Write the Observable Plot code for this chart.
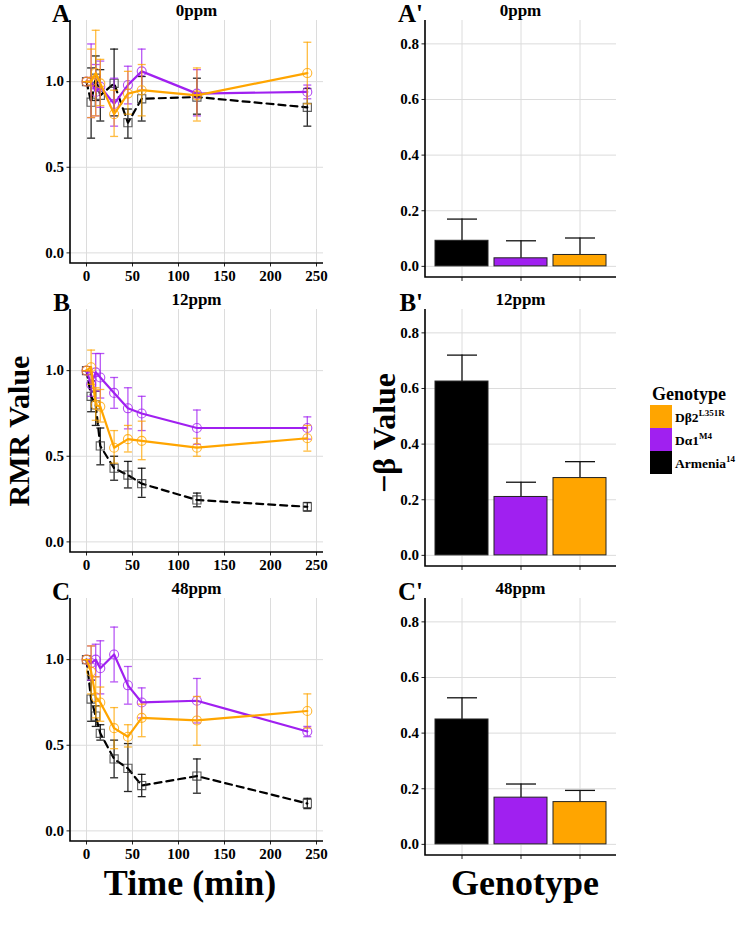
<!DOCTYPE html>
<html><head><meta charset="utf-8">
<script src="https://cdn.jsdelivr.net/npm/d3@7"></script>
<script src="https://cdn.jsdelivr.net/npm/@observablehq/plot@0.6"></script>
<style>
body{margin:0;background:#fff;}
#root{position:relative;width:739px;height:925px;overflow:hidden;background:#fff;font-family:"Liberation Serif","Times New Roman",serif;font-weight:bold;color:#000;}
#root svg{position:absolute;}
#legend{position:absolute;left:650px;top:383px;width:89px;white-space:nowrap;font-family:"Liberation Serif",serif;font-weight:bold;}
#legend .t{font-size:18px;line-height:22px;margin-left:2px;}
#legend .row{display:flex;align-items:center;height:23px;white-space:nowrap;}
#legend .key{width:22px;height:23px;margin-right:3px;flex:none;}
#legend .lab{font-size:13.5px;white-space:nowrap;}
#legend sup{font-size:9px;vertical-align:6px;}
</style></head><body><div id="root"></div>
<script>
// ---------- data ----------
const times = [0, 5, 10, 15, 30, 45, 60, 120, 240];
const genotypes = ["Armenia14", "Da1M4", "Db2L351R"];
const genotypeColors = ["#000000", "#A020F0", "#FFA500"];
const doses = ["0ppm", "12ppm", "48ppm"];
const xTicks = [0, 50, 100, 150, 200, 250];
const yTicksRMR = [0, 0.5, 1.0];
const yTicksBeta = [0, 0.2, 0.4, 0.6, 0.8];

// RMR, 0ppm
const arm_0_mean = [1.00, 0.88, 1.02, 0.92, 0.99, 0.76, 0.90, 0.91, 0.85];
const arm_0_lo   = [1.00, 0.67, 0.89, 0.77, 0.80, 0.67, 0.77, 0.81, 0.74];
const arm_0_hi   = [1.00, 1.08, 1.15, 1.07, 1.19, 0.84, 1.03, 1.02, 0.96];
const da1_0_mean = [1.00, 1.00, 0.94, 0.97, 0.87, 0.98, 1.06, 0.93, 0.94];
const da1_0_lo   = [1.00, 0.79, 0.80, 0.85, 0.74, 0.87, 0.95, 0.80, 0.90];
const da1_0_hi   = [1.00, 1.22, 1.10, 1.12, 1.02, 1.09, 1.19, 1.07, 0.98];
const db2_0_mean = [1.00, 1.00, 1.05, 0.99, 0.81, 0.93, 0.95, 0.92, 1.05];
const db2_0_lo   = [1.00, 0.79, 0.80, 0.86, 0.68, 0.81, 0.80, 0.77, 0.87];
const db2_0_hi   = [1.00, 1.19, 1.30, 1.13, 0.95, 1.06, 1.10, 1.08, 1.23];
// RMR, 12ppm
const arm_12_mean = [1.00, 0.85, 0.80, 0.56, 0.43, 0.39, 0.34, 0.245, 0.205];
const arm_12_lo   = [1.00, 0.76, 0.68, 0.45, 0.36, 0.315, 0.26, 0.205, 0.18];
const arm_12_hi   = [1.00, 0.94, 0.88, 0.665, 0.50, 0.47, 0.43, 0.285, 0.23];
const da1_12_mean = [1.00, 0.92, 0.99, 0.96, 0.87, 0.78, 0.75, 0.665, 0.665];
const da1_12_lo   = [1.00, 0.85, 0.88, 0.84, 0.78, 0.66, 0.65, 0.57, 0.60];
const da1_12_hi   = [1.00, 0.99, 1.10, 1.10, 0.96, 0.90, 0.85, 0.77, 0.73];
const db2_12_mean = [1.00, 1.02, 0.80, 0.79, 0.55, 0.60, 0.59, 0.55, 0.605];
const db2_12_lo   = [1.00, 0.92, 0.71, 0.70, 0.46, 0.525, 0.48, 0.50, 0.53];
const db2_12_hi   = [1.00, 1.12, 0.90, 0.89, 0.65, 0.68, 0.705, 0.605, 0.68];
// RMR, 48ppm
const arm_48_mean = [1.00, 0.77, 0.67, 0.57, 0.42, 0.365, 0.265, 0.32, 0.16];
const arm_48_lo   = [1.00, 0.64, 0.61, 0.53, 0.31, 0.23, 0.20, 0.22, 0.13];
const arm_48_hi   = [1.00, 0.88, 0.73, 0.62, 0.53, 0.51, 0.33, 0.42, 0.19];
const da1_48_mean = [1.00, 0.98, 1.00, 0.95, 1.03, 0.85, 0.75, 0.76, 0.58];
const da1_48_lo   = [1.00, 0.88, 0.90, 0.80, 0.87, 0.74, 0.66, 0.63, 0.55];
const da1_48_hi   = [1.00, 1.08, 1.09, 1.11, 1.19, 0.96, 0.835, 0.89, 0.61];
const db2_48_mean = [1.00, 0.93, 0.78, 0.75, 0.60, 0.55, 0.66, 0.645, 0.70];
const db2_48_lo   = [1.00, 0.80, 0.66, 0.64, 0.48, 0.49, 0.55, 0.50, 0.60];
const db2_48_hi   = [1.00, 1.08, 0.90, 0.84, 0.72, 0.62, 0.74, 0.785, 0.80];

// -beta values (bars) with upper error
const beta_0_mean  = [0.092, 0.029, 0.041];
const beta_0_hi    = [0.170, 0.092, 0.102];
const beta_12_mean = [0.625, 0.210, 0.278];
const beta_12_hi   = [0.720, 0.263, 0.337];
const beta_48_mean = [0.449, 0.168, 0.152];
const beta_48_hi   = [0.527, 0.217, 0.194];

// ---------- build tables ----------
function series(g, mean, lo, hi) {
  return times.map((t, i) => ({t, g, m: mean[i], lo: lo[i], hi: hi[i]}));
}
const rmrPanels = [
  [series("Armenia14", arm_0_mean, arm_0_lo, arm_0_hi), series("Da1M4", da1_0_mean, da1_0_lo, da1_0_hi), series("Db2L351R", db2_0_mean, db2_0_lo, db2_0_hi)],
  [series("Armenia14", arm_12_mean, arm_12_lo, arm_12_hi), series("Da1M4", da1_12_mean, da1_12_lo, da1_12_hi), series("Db2L351R", db2_12_mean, db2_12_lo, db2_12_hi)],
  [series("Armenia14", arm_48_mean, arm_48_lo, arm_48_hi), series("Da1M4", da1_48_mean, da1_48_lo, da1_48_hi), series("Db2L351R", db2_48_mean, db2_48_lo, db2_48_hi)]
];
const betaPanels = [[beta_0_mean, beta_0_hi], [beta_12_mean, beta_12_hi], [beta_48_mean, beta_48_hi]]
  .map(([m, hi]) => genotypes.map((g, i) => ({g, m: m[i], hi: hi[i]})));

// ---------- helpers ----------
const FONT = "Liberation Serif, Times New Roman, serif";
const capSymbol = {draw(ctx, size) { const w = Math.sqrt(size / Math.PI); ctx.moveTo(-w, 0); ctx.lineTo(w, 0); }};
const axisL = (index, scales, values, dim) => {
  const p = document.createElementNS("http://www.w3.org/2000/svg", "path");
  const x0 = dim.marginLeft, y0 = dim.marginTop, y1 = dim.height - dim.marginBottom, x1 = dim.width - dim.marginRight;
  p.setAttribute("d", `M${x0},${y0}V${y1}H${x1}`);
  p.setAttribute("fill", "none"); p.setAttribute("stroke", "#000"); p.setAttribute("stroke-width", "1.6");
  return p;
};
const colorOf = g => genotypeColors[genotypes.indexOf(g)];
const root = document.getElementById("root");
const rowTops = [0, 289, 578];

function rmrPlot(panel) {
  const [arm, da1, db2] = panel;
  const marks = [
    Plot.gridX(xTicks, {stroke: "#dcdcdc", strokeOpacity: 1, strokeWidth: 1}),
    Plot.gridY(yTicksRMR, {stroke: "#dcdcdc", strokeOpacity: 1, strokeWidth: 1}),
    Plot.axisX(xTicks, {tickSize: 3.5, tickPadding: 3, fontSize: 15, fontWeight: "bold", fontFamily: FONT, label: null, stroke: "#222"}),
    Plot.axisY(yTicksRMR, {tickSize: 3.5, tickPadding: 3, fontSize: 15, fontWeight: "bold", fontFamily: FONT, label: null, tickFormat: d3.format(".1f"), stroke: "#222"}),
    axisL
  ];
  for (const s of [arm, da1, db2]) {
    const c = colorOf(s[0].g);
    const isArm = s === arm;
    const eo = isArm ? 0.85 : 0.75;
    marks.push(
      Plot.ruleX(s, {x: "t", y1: "lo", y2: "hi", stroke: c, strokeWidth: 1.3, strokeOpacity: eo}),
      Plot.dot(s, {x: "t", y: "lo", symbol: capSymbol, r: 4, stroke: c, strokeWidth: 1.3, strokeOpacity: eo}),
      Plot.dot(s, {x: "t", y: "hi", symbol: capSymbol, r: 4, stroke: c, strokeWidth: 1.3, strokeOpacity: eo}),
      Plot.line(s, {x: "t", y: "m", stroke: c, strokeWidth: 2.2, strokeDasharray: isArm ? "7,5" : null}),
      Plot.dot(s, {x: "t", y: "m", symbol: isArm ? "square" : "circle", r: isArm ? 4.6 : 4.5, stroke: isArm ? "#333" : c, strokeWidth: 1.1, fill: "none", strokeOpacity: 0.8})
    );
  }
  return Plot.plot({
    width: 335, height: 290, marginLeft: 70, marginRight: 12, marginTop: 20, marginBottom: 27,
    x: {domain: [-17.4, 257.6]},
    y: {domain: [-0.062, 1.357]},
    style: {background: "transparent", color: "#000", overflow: "visible"},
    marks
  });
}

function betaPlot(rows) {
  return Plot.plot({
    width: 240, height: 289, marginLeft: 45, marginRight: 4, marginTop: 20, marginBottom: 12,
    x: {domain: genotypes, paddingInner: 0.1, paddingOuter: 0.15},
    y: {domain: [-0.04, 0.884]},
    style: {background: "transparent", color: "#000", overflow: "visible"},
    marks: [
      Plot.gridX(genotypes, {stroke: "#dcdcdc", strokeOpacity: 1, strokeWidth: 1}),
      Plot.gridY(yTicksBeta, {stroke: "#dcdcdc", strokeOpacity: 1, strokeWidth: 1}),
      Plot.ruleX(rows, {x: "g", y1: "m", y2: "hi", stroke: "#111", strokeWidth: 1.3}),
      Plot.dot(rows, {x: "g", y: "hi", symbol: capSymbol, r: 15, stroke: "#111", strokeWidth: 1.3}),
      Plot.barY(rows, {x: "g", y: "m", fill: d => colorOf(d.g), stroke: "#222", strokeWidth: 1}),
      Plot.axisX(genotypes, {tickSize: 4, tickFormat: () => "", label: null, stroke: "#222"}),
      Plot.axisY(yTicksBeta, {tickSize: 3.5, tickPadding: 3, fontSize: 15, fontWeight: "bold", fontFamily: FONT, label: null, tickFormat: d3.format(".1f"), stroke: "#222"}),
      axisL
    ]
  });
}

rmrPanels.forEach((p, i) => {
  const svg = rmrPlot(p);
  svg.style.left = "0px"; svg.style.top = rowTops[i] + "px";
  root.appendChild(svg);
});
betaPanels.forEach((rows, i) => {
  const svg = betaPlot(rows);
  svg.style.left = "380px"; svg.style.top = rowTops[i] + "px";
  root.appendChild(svg);
});

// ---------- annotation overlay ----------
const NS = "http://www.w3.org/2000/svg";
const ov = document.createElementNS(NS, "svg");
ov.setAttribute("width", 739); ov.setAttribute("height", 925);
ov.style.left = "0px"; ov.style.top = "0px"; ov.style.pointerEvents = "none";
root.appendChild(ov);
function txt(s, x, y, size, anchor, rotate) {
  const t = document.createElementNS(NS, "text");
  t.textContent = s;
  t.setAttribute("font-family", FONT); t.setAttribute("font-weight", "bold");
  t.setAttribute("font-size", size); t.setAttribute("text-anchor", anchor);
  if (rotate) { t.setAttribute("transform", `translate(${x},${y}) rotate(${rotate})`); t.setAttribute("dominant-baseline", "central"); }
  else { t.setAttribute("x", x); t.setAttribute("y", y); }
  ov.appendChild(t);
}
const letters = ["A", "B", "C"];
rowTops.forEach((top, i) => {
  txt(letters[i], 70, top + 22, 25, "end");
  txt(letters[i] + "'", 423, top + 22, 25, "end");
  txt(doses[i], 196.5, top + 15.5, 17, "middle");
  txt(doses[i], 520.5, top + 15.5, 17, "middle");
});
txt("RMR Value", 18, 431, 30, "middle", -90);
txt("\u2212\u03b2 Value", 384, 433, 32, "middle", -90);
txt("Time (min)", 190, 895, 36, "middle");
txt("Genotype", 525, 895, 36, "middle");

// ---------- legend ----------
const legendLabels = [
  ["D\u03b22", "L351R"],
  ["D\u03b11", "M4"],
  ["Armenia", "14"]
];
const legendOrder = ["Db2L351R", "Da1M4", "Armenia14"];
const lg = document.createElement("div");
lg.id = "legend";
lg.innerHTML = `<div class="t">Genotype</div>` + legendOrder.map((g, i) =>
  `<div class="row"><div class="key" style="background:${colorOf(g)}"></div><span class="lab">${legendLabels[i][0]}<sup>${legendLabels[i][1]}</sup></span></div>`
).join("");
root.appendChild(lg);
</script>
</body></html>
